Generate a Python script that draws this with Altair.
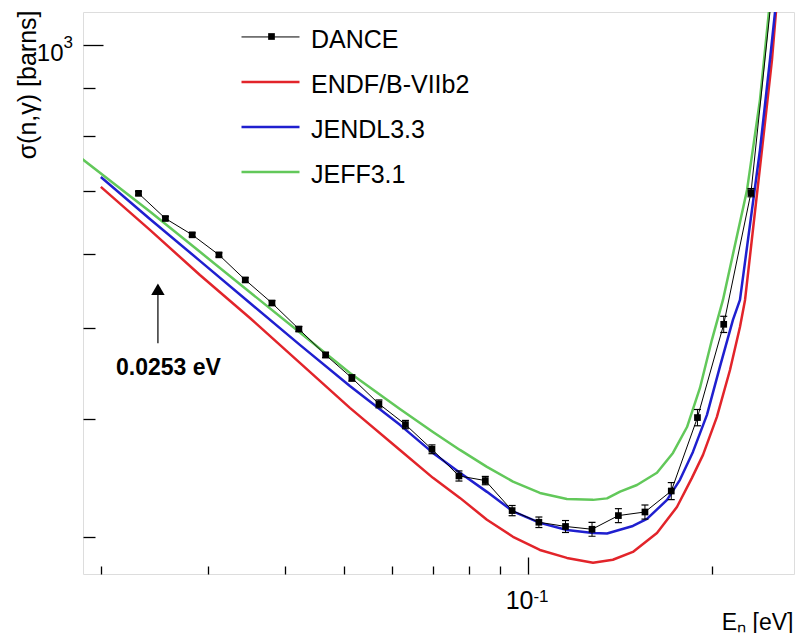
import altair as alt
import pandas as pd

FONT = "Liberation Sans"

# ---------------- data ----------------
series_names = ["DANCE", "ENDF/B-VIIb2", "JENDL3.3", "JEFF3.1"]
series_colors = ["#000000", "#e2242a", "#1f1fcf", "#62c85a"]

dance_E = [0.02305, 0.02551, 0.02822, 0.03121, 0.03447, 0.03811, 0.04218, 0.04665,
           0.05150, 0.05703, 0.06302, 0.06965, 0.07710, 0.08515, 0.09421, 0.1042,
           0.1152, 0.1273, 0.1406, 0.1554, 0.1716, 0.1894, 0.2091, 0.2317, 0.2561]
dance_sigma = [695.5, 654.0, 628.4, 598.3, 562.7, 531.8, 499.0, 468.3,
               442.7, 415.5, 395.0, 371.8, 348.3, 344.4, 320.0, 311.0,
               307.8, 305.7, 316.1, 318.9, 335.7, 401.8, 504.8, 696.7, 1293.0]
dance_err = [3, 3, 3, 3, 3, 3, 3, 3, 3.5, 4, 4, 4, 4.3, 3.5, 4, 4,
             4.5, 5.2, 5.4, 5.5, 7, 8, 10, 7, 15]

endf_E = [0.02000, 0.02406, 0.02905, 0.03508, 0.04234, 0.05112, 0.06172, 0.06991,
          0.07739, 0.08568, 0.09452, 0.1046, 0.1158, 0.1278, 0.1377, 0.1485,
          0.1626, 0.1753, 0.1855, 0.1934, 0.2038, 0.2141, 0.2223, 0.2266,
          0.2415, 0.2508, 0.2546, 0.2587]
endf_sigma = [706.6, 636.0, 569.6, 512.7, 459.3, 411.4, 371.2, 346.7,
              330.1, 312.9, 300.1, 290.6, 285.0, 281.6, 283.7, 289.2,
              302.9, 322.8, 346.7, 366.7, 402.5, 451.4, 501.5, 535.8,
              773.4, 964.0, 1084.0, 1231.0]

jendl_E = [0.0200, 0.02406, 0.02905, 0.03508, 0.04234, 0.05112, 0.06172, 0.06991,
           0.07739, 0.08568, 0.09452, 0.1046, 0.1158, 0.1278, 0.1347, 0.1485,
           0.1566, 0.1689, 0.1773, 0.1862, 0.1963, 0.2061, 0.2165, 0.2223,
           0.2397, 0.2489, 0.2537, 0.2588]
jendl_sigma = [723.9, 653.3, 589.6, 531.8, 480.0, 434.1, 394.7, 368.5,
               351.0, 335.0, 319.4, 310.5, 305.1, 302.9, 302.6, 308.2,
               313.5, 328.5, 345.0, 369.4, 404.5, 454.8, 510.2, 535.8,
               773.4, 964.0, 1084.0, 1231.0]

jeff_E = [0.0180, 0.02406, 0.02905, 0.03508, 0.04234, 0.05112, 0.06172, 0.06991,
          0.07739, 0.08568, 0.09452, 0.1046, 0.1158, 0.1278, 0.1347, 0.1415,
          0.1508, 0.1626, 0.1727, 0.1821, 0.1912, 0.2000, 0.2085, 0.2283,
          0.2397, 0.2479, 0.2520]
jeff_sigma = [770.0, 665.4, 602.8, 546.0, 494.8, 448.1, 410.4, 387.9,
              371.2, 356.1, 343.5, 334.1, 329.2, 328.5, 329.7, 335.2,
              340.7, 351.0, 368.5, 392.6, 432.0, 486.0, 535.8, 701.4,
              874.3, 1084.0, 1231.0]

x_domain = [0.0187, 0.2725]
y_domain = [274.0, 1084.0]
x_minor_ticks = [0.02, 0.03, 0.04, 0.05, 0.06, 0.07, 0.08, 0.09, 0.2]
x_major_ticks = [0.1]
y_minor_ticks = [300, 400, 500, 600, 700, 800, 900]
y_major_ticks = [1000]

arrow_E = [0.0248]
arrow_from = [482.0]
arrow_to = [545.0]
arrow_head = [550.0]
note_E = [0.0258]
note_sigma = [453.6]
note_text = ["0.0253 eV"]

# ---------------- tables ----------------
curve_rows = []
for name, E, S in [("ENDF/B-VIIb2", endf_E, endf_sigma),
                   ("JENDL3.3", jendl_E, jendl_sigma),
                   ("JEFF3.1", jeff_E, jeff_sigma)]:
    for e, s in zip(E, S):
        curve_rows.append({"E": e, "sigma": s, "series": name, "lw": 2.5})
curve_df = pd.DataFrame(curve_rows)

dance_df = pd.DataFrame({
    "E": dance_E, "sigma": dance_sigma,
    "lo": [s - d for s, d in zip(dance_sigma, dance_err)],
    "hi": [s + d for s, d in zip(dance_sigma, dance_err)],
})
dance_df["series"] = "DANCE"
dance_df["lw"] = 1.0
dance_df["mk"] = "DANCE"

arrow_df = pd.DataFrame({"E": arrow_E, "a": arrow_from, "b": arrow_to, "h": arrow_head})
note_df = pd.DataFrame({"E": note_E, "sigma": note_sigma, "text": note_text})

xs = alt.Scale(type="log", domain=x_domain, nice=False)
ys = alt.Scale(type="log", domain=y_domain, nice=False)

# ---------------- axes ----------------
common = dict(grid=False, domain=False, labelFont=FONT, labelColor="black",
              titleFont=FONT, titleColor="black", titleFontWeight="normal",
              labelFlush=False, labelOverlap=False)

ax_x_main = alt.Axis(orient="bottom", values=x_major_ticks, labelExpr="'10'",
                     ticks=False, tickSize=0, labelFontSize=25, labelAlign="right",
                     labelOffset=5, labelBaseline="middle", labelPadding=26,
                     title="Eₙ [eV]", titleFontSize=23, titleAlign="right",
                     titleAnchor="end", titleX=710, titleY=55,
                     titleBaseline="alphabetic", **common)
ax_x_exp = alt.Axis(orient="bottom", values=x_major_ticks, labelExpr="'-1'",
                    ticks=False, tickSize=0, labelFontSize=17, labelAlign="left",
                    labelOffset=5, labelBaseline="middle", labelPadding=22,
                    title=None, **common)
ax_x_minor = alt.Axis(orient="top", offset=-562, values=x_minor_ticks, labels=False,
                      ticks=True, tickSize=8, tickColor="black", tickWidth=1.3,
                      title=None, **common)
ax_x_major = alt.Axis(orient="top", offset=-562, values=x_major_ticks, labels=False,
                      ticks=True, tickSize=17, tickColor="black", tickWidth=1.3,
                      title=None, **common)

ax_y_main = alt.Axis(orient="left", values=y_major_ticks, labelExpr="'10'",
                     ticks=False, tickSize=0, labelFontSize=24, labelAlign="right",
                     labelPadding=20, labelBaseline="middle", labelOffset=9,
                     title="σ(n,γ) [barns]", titleFontSize=25, titleAngle=270,
                     titleAlign="right", titleBaseline="middle",
                     titleX=-56, titleY=-2, **common)
ax_y_exp = alt.Axis(orient="left", values=y_major_ticks, labelExpr="'3'",
                    ticks=False, tickSize=0, labelFontSize=17, labelAlign="left",
                    labelPadding=20, labelBaseline="middle", labelOffset=-2,
                    title=None, **common)
ax_y_minor = alt.Axis(orient="right", offset=-711, values=y_minor_ticks, labels=False,
                      ticks=True, tickSize=12, tickColor="black", tickWidth=1.3,
                      title=None, **common)
ax_y_major = alt.Axis(orient="right", offset=-711, values=y_major_ticks, labels=False,
                      ticks=True, tickSize=20, tickColor="black", tickWidth=1.3,
                      title=None, **common)

# ---------------- legends ----------------
leg_lines = alt.Legend(orient="none", legendX=175, legendY=15, title=None, padding=0,
                       direction="vertical", symbolType="M-2.5,-0.22H2.5", symbolSize=538,
                       symbolStrokeWidth={"expr": "datum.value === 'DANCE' ? 1 : 2.5"},
                       labelFont=FONT, labelFontSize=25, labelColor="black",
                       labelOffset=28, rowPadding=19, labelLimit=400)
leg_marker = alt.Legend(orient="none", legendX=185, legendY=21, title=None, padding=0,
                        symbolSize=45, symbolStrokeWidth=0, symbolFillColor="black",
                        labelExpr="''", labelFontSize=1)

color_enc = alt.Color("series:N", scale=alt.Scale(domain=series_names, range=series_colors),
                      legend=leg_lines)

# ---------------- layers ----------------
curves = alt.Chart(curve_df).mark_line(clip=True, strokeJoin="round").encode(
    x=alt.X("E:Q", scale=xs, axis=ax_x_main),
    y=alt.Y("sigma:Q", scale=ys, axis=ax_y_main),
    color=color_enc,
    strokeWidth=alt.StrokeWidth("lw:Q", scale=None),
)

dance_line = alt.Chart(dance_df).mark_line(clip=True).encode(
    x=alt.X("E:Q", scale=xs, axis=ax_x_exp),
    y=alt.Y("sigma:Q", scale=ys, axis=ax_y_exp),
    color=color_enc,
    strokeWidth=alt.StrokeWidth("lw:Q", scale=None),
)

err_bars = alt.Chart(dance_df).mark_rule(clip=True, color="black", strokeWidth=1).encode(
    x=alt.X("E:Q", scale=xs, axis=ax_x_minor),
    y=alt.Y("lo:Q", scale=ys, axis=ax_y_minor),
    y2="hi:Q",
)

cap_lo = alt.Chart(dance_df).mark_tick(clip=True, orient="horizontal", size=7,
                                       thickness=1.2, color="black", opacity=1).encode(
    x=alt.X("E:Q", scale=xs, axis=ax_x_major),
    y=alt.Y("lo:Q", scale=ys, axis=ax_y_major),
)
cap_hi = alt.Chart(dance_df).mark_tick(clip=True, orient="horizontal", size=7,
                                       thickness=1.2, color="black", opacity=1).encode(
    x=alt.X("E:Q", scale=xs, axis=None),
    y=alt.Y("hi:Q", scale=ys, axis=None),
)

points = alt.Chart(dance_df).mark_point(clip=True, shape="square", filled=True, size=45,
                                        color="black", opacity=1).encode(
    x=alt.X("E:Q", scale=xs, axis=None),
    y=alt.Y("sigma:Q", scale=ys, axis=None),
    shape=alt.Shape("mk:N", scale=alt.Scale(domain=["DANCE"], range=["square"]),
                    legend=leg_marker),
)

arrow_line = alt.Chart(arrow_df).mark_rule(color="black", strokeWidth=1.2).encode(
    x=alt.X("E:Q", scale=xs, axis=None),
    y=alt.Y("a:Q", scale=ys, axis=None),
    y2="b:Q",
)
arrow_tip = alt.Chart(arrow_df).mark_point(shape="triangle-up", filled=True, size=180,
                                           color="black", opacity=1).encode(
    x=alt.X("E:Q", scale=xs, axis=None),
    y=alt.Y("h:Q", scale=ys, axis=None),
)
note = alt.Chart(note_df).mark_text(font=FONT, fontSize=23, fontWeight="bold",
                                    color="black", align="center",
                                    baseline="middle").encode(
    x=alt.X("E:Q", scale=xs, axis=None),
    y=alt.Y("sigma:Q", scale=ys, axis=None),
    text="text:N",
)

chart = alt.layer(
    curves, dance_line, err_bars, cap_lo, cap_hi, points, arrow_line, arrow_tip, note
).resolve_axis(x="independent", y="independent").properties(
    width=711, height=562,
    padding={"left": 83, "top": 12, "right": 4, "bottom": 59},
    autosize=alt.AutoSizeParams(type="none"),
    background="white",
).configure_view(stroke="black", strokeWidth=2).configure(font=FONT)

chart.save("out.html", embed_options={"renderer": "svg", "actions": False})
